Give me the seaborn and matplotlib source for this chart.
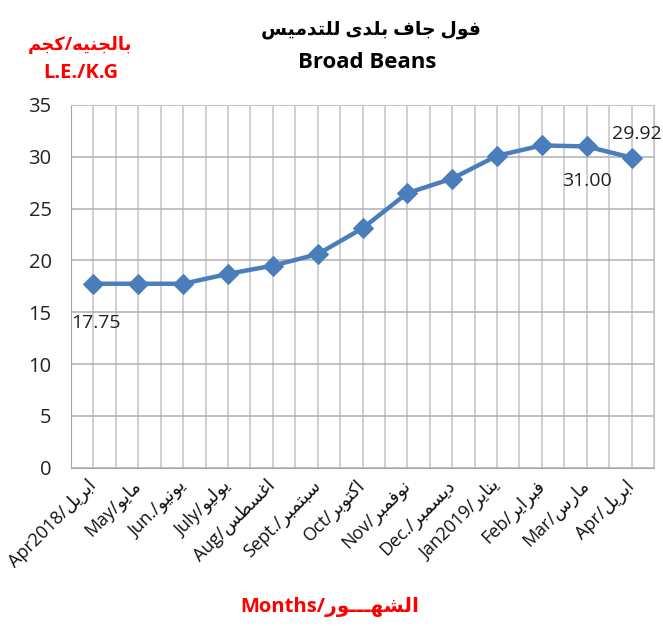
import numpy as np
import pandas as pd
import matplotlib
matplotlib.use("Agg")
import matplotlib.pyplot as plt
import seaborn as sns

# data
months_en = ["Apr2018", "May", "Jun.", "July", "Aug", "Sept.", "Oct",
             "Nov", "Dec.", "Jan2019", "Feb", "Mar", "Apr"]
months_ar = ["ابريل", "مايو", "يونيو", "يوليو", "اغسطس", "سبتمبر", "اكتوبر",
             "نوفمبر", "ديسمبر", "يناير", "فبراير", "مارس", "ابريل"]
prices = [17.75, 17.75, 17.75, 18.7, 19.5, 20.6, 23.1,
          26.5, 27.9, 30.1, 31.1, 31.00, 29.92]
labelled = {0: "17.75", 11: "31.00", 12: "29.92"}
yticks = [0, 5, 10, 15, 20, 25, 30, 35]

title_ar = "فول جاف بلدى للتدميس"
title_en = "Broad Beans"
unit_ar = "بالجنيه/كجم"
unit_en = "L.E./K.G"
xlabel_en = "Months/"
xlabel_ar = "الشهـــور"


# matplotlib has no arabic shaping, so pick presentation forms by hand
_forms = {}
for ch, code in zip("بتثجحخسشصضطظعغفقكلمنهي",
                    [0xFE8F, 0xFE95, 0xFE99, 0xFE9D, 0xFEA1, 0xFEA5, 0xFEB1, 0xFEB5,
                     0xFEB9, 0xFEBD, 0xFEC1, 0xFEC5, 0xFEC9, 0xFECD, 0xFED1, 0xFED5,
                     0xFED9, 0xFEDD, 0xFEE1, 0xFEE5, 0xFEE9, 0xFEF1]):
    _forms[ch] = (code, True)
for ch, code in zip("اةدذرزوى", [0xFE8D, 0xFE93, 0xFEA9, 0xFEAB, 0xFEAD, 0xFEAF, 0xFEED, 0xFEEF]):
    _forms[ch] = (code, False)
TATWEEL = "\u0640"


def shape_ar(s):
    out = []
    for i, ch in enumerate(s):
        if ch not in _forms:
            out.append(ch)
            continue
        prev = s[i - 1] if i > 0 else ""
        nxt = s[i + 1] if i + 1 < len(s) else ""
        base, dual = _forms[ch]
        jp = (prev in _forms and _forms[prev][1]) or prev == TATWEEL
        jn = dual and (nxt in _forms or nxt == TATWEEL)
        if jp and jn:
            code = base + 3
        elif jp:
            code = base + 1
        elif jn:
            code = base + 2
        else:
            code = base
        out.append(chr(code))
    return "".join(reversed(out))


sns.set_style("white")
plt.rcParams["font.family"] = ["Open Sans", "DejaVu Sans"]

df = pd.DataFrame({"pos": np.arange(len(prices)), "price": prices})
tick_labels = [en + "/" + shape_ar(ar) for en, ar in zip(months_en, months_ar)]

fig = plt.figure(figsize=(6.63, 6.26), dpi=100)
ax = fig.add_axes([71 / 663, 1 - 467.7 / 626, 583 / 663, 362.7 / 626])

sns.lineplot(data=df, x="pos", y="price", ax=ax, color="#4A7EBB", lw=3.2,
             marker="D", markersize=10, markeredgecolor="#4A7EBB", sort=False)

n = len(prices)
ax.set_xlim(-0.5, n - 0.5)
ax.set_ylim(0, 35)
ax.set_yticks(yticks)
ax.set_yticklabels([str(t) for t in yticks], fontsize=14.5, color="#222222")
ax.set_xticks(np.arange(n))
ax.set_xticklabels(tick_labels, rotation=45, ha="right", va="center",
                   rotation_mode="anchor", fontsize=13, color="#111111")
ax.set_xticks(np.arange(n + 1) - 0.5, minor=True)
ax.tick_params(axis="x", which="major", length=0, pad=11)
ax.tick_params(axis="x", which="minor", length=7, width=1, color="#a6a6a6", direction="out")
ax.tick_params(axis="y", length=6, width=1, color="#a6a6a6", pad=8)
ax.grid(axis="x", which="both", color="#c4c4c4", lw=1.1)
ax.grid(axis="y", which="major", color="#b0b0b0", lw=1.1)
ax.set_axisbelow(True)
for side in ["top", "right"]:
    ax.spines[side].set_color("#c4c4c4")
for side in ["left", "bottom"]:
    ax.spines[side].set_color("#a6a6a6")
ax.set_xlabel("")
ax.set_ylabel("")

offsets = {0: (3, -39), 11: (0, -35), 12: (5, 24)}
for i, txt in labelled.items():
    ax.annotate(txt, (i, prices[i]), xytext=offsets[i], textcoords="offset pixels",
                ha="center", va="center", fontsize=14, color="#222222",
                annotation_clip=False)

fig.text(371 / 663, 1 - 30 / 626, shape_ar(title_ar), ha="center", va="center",
         fontsize=13.5, fontweight="bold", color="black")
fig.text(367 / 663, 1 - 63 / 626, title_en, ha="center", va="center",
         fontsize=16, fontweight="bold", color="black")
fig.text(80 / 663, 1 - 45 / 626, shape_ar(unit_ar), ha="center", va="center",
         fontsize=13, fontweight="bold", color="#FF0000")
fig.text(81 / 663, 1 - 73 / 626, unit_en, ha="center", va="center",
         fontsize=14.5, fontweight="bold", color="#FF0000")
fig.text(330 / 663, 1 - 607 / 626, xlabel_en + shape_ar(xlabel_ar), ha="center",
         va="center", fontsize=14.5, fontweight="bold", color="#FF0000")

fig.savefig("out.png", dpi=100)
